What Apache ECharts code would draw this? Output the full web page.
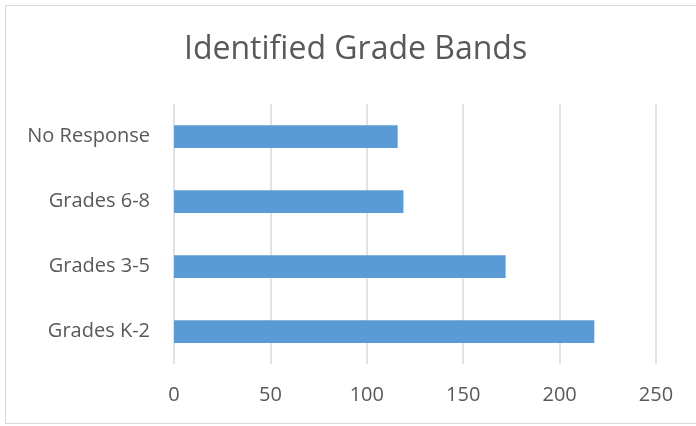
<!DOCTYPE html>
<html>
<head>
<meta charset="utf-8">
<script src="https://cdn.jsdelivr.net/npm/echarts@6/dist/echarts.min.js"></script>
<style>
  html, body { margin: 0; padding: 0; background: #fff; }
  #frame {
    position: absolute; left: 5px; top: 5px;
    width: 700px; height: 419px;
    border: 1px solid #d9d9d9; box-sizing: border-box;
  }
  #chart { position: absolute; left: 0; top: 0; width: 696px; height: 426px; }
</style>
</head>
<body>
<div id="frame"></div>
<div id="chart"></div>
<script>
// categories bottom -> top (as drawn)
const categories = ["Grades K-2", "Grades 3-5", "Grades 6-8", "No Response"];
const counts = [218, 172, 119, 116];
const xTicks = { min: 0, max: 250, step: 50 };

const textColor = "#595959";
const gridColor = "#d9d9d9";
const font = "'Open Sans', sans-serif";

const chart = echarts.init(document.getElementById("chart"));
chart.setOption({
  animation: false,
  title: {
    text: "Identified Grade Bands",
    left: 179,
    top: 29,
    textStyle: { fontFamily: font, fontSize: 32, fontWeight: "normal", color: textColor }
  },
  grid: { left: 174, right: 40, top: 104, bottom: 62 },
  xAxis: {
    type: "value",
    min: xTicks.min,
    max: xTicks.max,
    interval: xTicks.step,
    axisLine: { show: false },
    axisTick: { show: false },
    splitLine: { lineStyle: { color: gridColor, width: 1.5 } },
    axisLabel: { margin: 21, fontFamily: font, fontSize: 20, color: textColor }
  },
  yAxis: {
    type: "category",
    data: categories,
    axisLine: { show: false },
    axisTick: { show: false },
    axisLabel: { margin: 24, fontFamily: font, fontSize: 20, color: textColor }
  },
  series: [{
    type: "bar",
    data: counts,
    barWidth: "35%",
    itemStyle: { color: "#5b9bd5" }
  }]
});
</script>
</body>
</html>
